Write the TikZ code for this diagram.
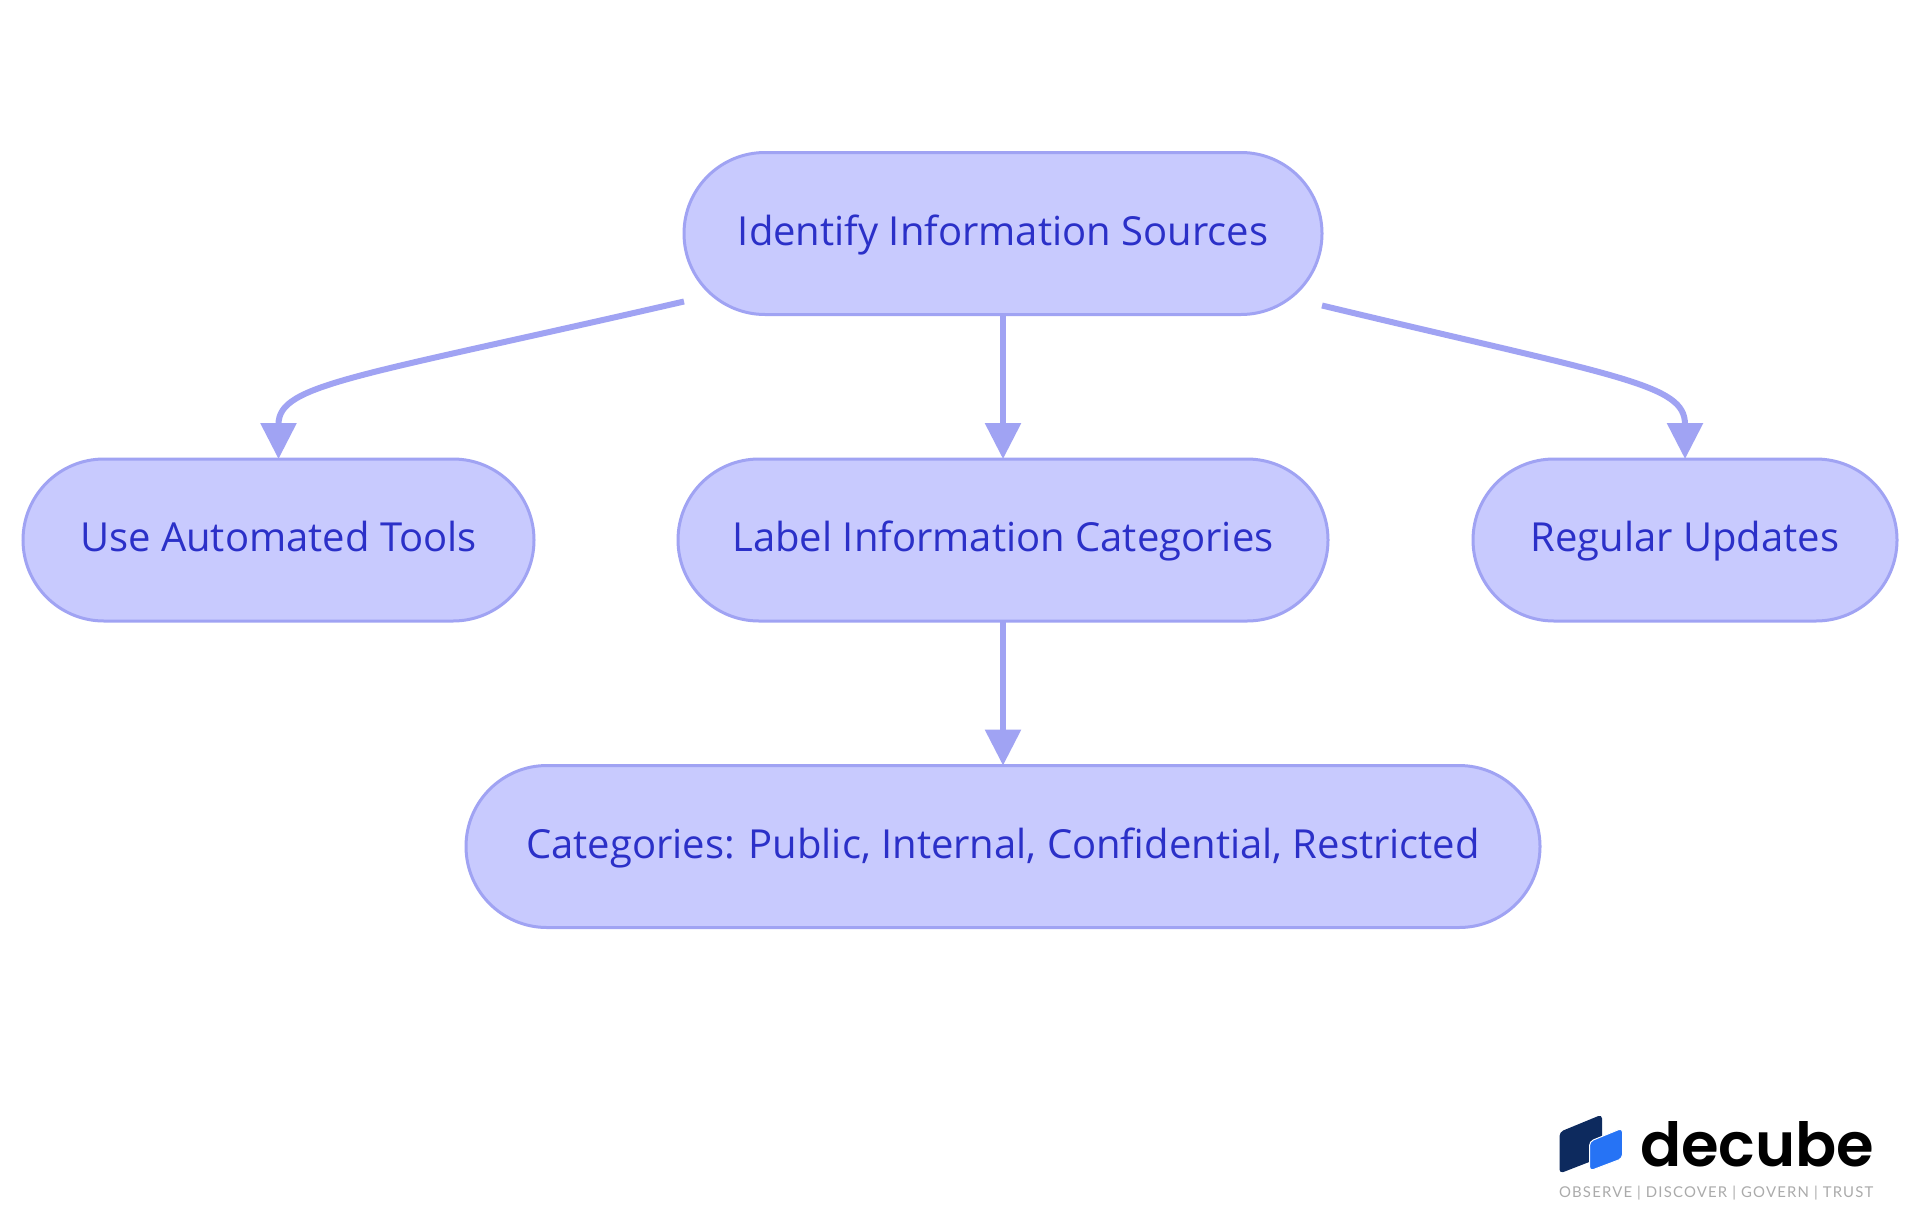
\documentclass[tikz,border=0pt]{standalone}
\usepackage{fontspec}
\usetikzlibrary{arrows.meta}
\setmainfont{Open Sans}
\newfontfamily\logofont{Poppins SemiBold}
\newfontfamily\tagfont[LetterSpace=8]{Lato}
\definecolor{boxfill}{HTML}{C8CAFE}
\definecolor{boxline}{HTML}{A0A3F3}
\definecolor{boxtext}{HTML}{2B30C8}
\definecolor{cubedark}{HTML}{0D2A5E}
\definecolor{cubelight}{HTML}{2673F5}
\definecolor{taggray}{HTML}{ABABAB}

\begin{document}
\begin{tikzpicture}[x=0.5pt, y=-0.5pt, ->, >={Triangle[length=18pt, width=17.5pt]}, line width=3pt, node distance=153.25pt]
    \tikzstyle{every box}=[draw=boxline, line width=1.5pt, fill=boxfill, text=boxtext, rounded corners=40.5pt, minimum height=81pt, inner sep=0pt, outer sep=0pt, text height=18pt, text depth=6.3pt, font=\fontsize{20}{24}\selectfont]
    \useasboundingbox (0,0) rectangle (1920,1215);
    \fill[white] (0,0) rectangle (1920,1215);

    % Define the boxes
    \node[every box, minimum width=319pt] (sources) at (1003,233.5) {Identify Information Sources};
    \node[every box, minimum width=325pt] (label) [below of=sources] {Label Information Categories};
    \node[every box, minimum width=255.5pt] (tools) [left of=label, node distance=362.25pt] {Use Automated Tools};
    \node[every box, minimum width=212pt] (updates) [right of=label, node distance=341pt] {Regular Updates};
    \node[every box, minimum width=537pt] (categories) [below of=label] {Categories: Public, Internal, Confidential, Restricted};

    % Free ends of the two curved arrows
    \coordinate (startL) at ([yshift=6.5pt]sources.south west);
    \coordinate (startR) at ([yshift=4.5pt]sources.south east);

    % Connect the boxes with arrows
    \draw[boxline] (startL) .. controls +(-330,76) and +(0,-75) .. (tools.north);
    \draw[boxline] (sources) -- (label);
    \draw[boxline] (startR) .. controls +(300,72) and +(0,-75) .. (updates.north);
    \draw[boxline] (label) -- (categories);

    % The logo
    \fill[cubedark, rounded corners=2pt, line width=0pt] (1559.5,1132) -- (1602,1114.5) -- (1602,1157) -- (1559.5,1173.5) -- cycle;
    \filldraw[cubelight, draw=white, rounded corners=2pt, line width=0.5pt] (1589.5,1141.5) -- (1622.5,1128) -- (1622.5,1158.5) -- (1589.5,1171) -- cycle;
    \node[text=black, inner sep=0pt, anchor=base west, font=\logofont\fontsize{30.4}{32}\selectfont] (brand) at (1637,1166) {decube};
    \node[text=taggray, inner sep=0pt, anchor=base west, font=\tagfont\fontsize{7.45}{9}\selectfont] (tagline) at (1556,1197) {OBSERVE | DISCOVER | GOVERN | TRUST};
\end{tikzpicture}
\end{document}
